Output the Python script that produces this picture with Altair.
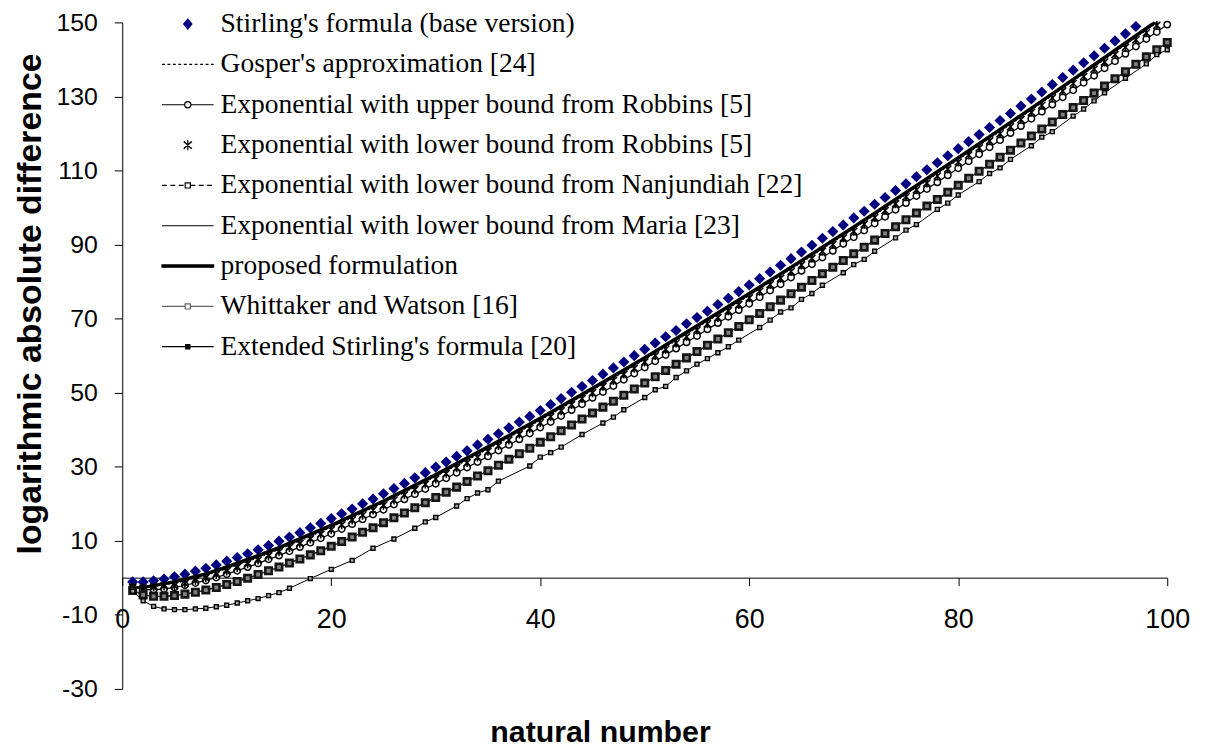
import json
import altair as alt
import pandas as pd

# ---------------- data ----------------
n_all = list(range(1, 101))

stirling = [
    -1.1, -1.1, -0.8, -0.3, 0.3, 1.0, 1.8, 2.6, 3.5, 4.5,
    5.5, 6.5, 7.6, 8.7, 9.9, 11.0, 12.2, 13.5, 14.7, 16.0,
    17.3, 18.6, 20.0, 21.3, 22.7, 24.1, 25.5, 27.0, 28.4, 29.9,
    31.3, 32.8, 34.3, 35.9, 37.4, 38.9, 40.5, 42.1, 43.6, 45.2,
    46.8, 48.4, 50.1, 51.7, 53.3, 55.0, 56.7, 58.3, 60.0, 61.7,
    63.4, 65.1, 66.8, 68.6, 70.3, 72.0, 73.8, 75.5, 77.3, 79.1,
    80.8, 82.6, 84.4, 86.2, 88.0, 89.8, 91.7, 93.5, 95.3, 97.2,
    99.0, 100.9, 102.7, 104.6, 106.4, 108.3, 110.2, 112.1, 114.0, 115.9,
    117.8, 119.7, 121.6, 123.5, 125.4, 127.4, 129.3, 131.2, 133.2, 135.1,
    137.1, 139.1, 141.0, 143.0, 145.0, 146.9, 148.9, 150.9, 152.9, 154.9,
]

gosper = [
    -2.4, -2.6, -2.3, -2.0, -1.5, -0.9, -0.1, 0.6, 1.5, 2.4,
    3.4, 4.4, 5.4, 6.5, 7.6, 8.8, 9.9, 11.1, 12.4, 13.6,
    14.9, 16.2, 17.5, 18.9, 20.2, 21.6, 23.0, 24.4, 25.9, 27.3,
    28.8, 30.3, 31.7, 33.2, 34.8, 36.3, 37.8, 39.4, 41.0, 42.5,
    44.1, 45.7, 47.4, 49.0, 50.6, 52.3, 53.9, 55.6, 57.2, 58.9,
    60.6, 62.3, 64.0, 65.7, 67.5, 69.2, 70.9, 72.7, 74.4, 76.2,
    78.0, 79.8, 81.5, 83.3, 85.1, 86.9, 88.8, 90.6, 92.4, 94.2,
    96.1, 97.9, 99.8, 101.6, 103.5, 105.4, 107.2, 109.1, 111.0, 112.9,
    114.8, 116.7, 118.6, 120.5, 122.4, 124.4, 126.3, 128.2, 130.2, 132.1,
    134.1, 136.0, 138.0, 139.9, 141.9, 143.9, 145.9, 147.8, 149.8, 151.8,
]

robbins_upper = [
    -2.6, -3.2, -3.2, -3.0, -2.6, -2.0, -1.4, -0.7, 0.1, 1.0,
    1.9, 2.9, 3.9, 5.0, 6.0, 7.2, 8.3, 9.5, 10.7, 11.9,
    13.2, 14.5, 15.8, 17.1, 18.4, 19.8, 21.2, 22.6, 24.0, 25.4,
    26.9, 28.4, 29.8, 31.3, 32.8, 34.4, 35.9, 37.4, 39.0, 40.6,
    42.1, 43.7, 45.3, 46.9, 48.6, 50.2, 51.8, 53.5, 55.2, 56.8,
    58.5, 60.2, 61.9, 63.6, 65.3, 67.1, 68.8, 70.5, 72.3, 74.0,
    75.8, 77.6, 79.3, 81.1, 82.9, 84.7, 86.5, 88.3, 90.2, 92.0,
    93.8, 95.7, 97.5, 99.4, 101.2, 103.1, 105.0, 106.8, 108.7, 110.6,
    112.5, 114.4, 116.3, 118.2, 120.1, 122.0, 124.0, 125.9, 127.8, 129.8,
    131.7, 133.7, 135.6, 137.6, 139.5, 141.5, 143.5, 145.5, 147.4, 149.4,
]

robbins_lower = [
    -2.6, -2.8, -2.5, -2.2, -2.1, -1.5, -0.7, 0.0, 0.9, 1.8,
    2.8, 3.8, 4.8, 5.9, 7.0, 8.2, 9.3, 10.5, 11.8, 13.0,
    14.3, 15.6, 16.9, 18.3, 19.6, 21.0, 22.4, 23.8, 25.3, 26.7,
    28.2, 29.7, 31.1, 32.6, 34.2, 35.7, 37.2, 38.8, 40.4, 41.9,
    43.5, 45.1, 46.8, 48.4, 50.0, 51.7, 53.3, 55.0, 56.6, 58.3,
    60.0, 61.7, 63.4, 65.1, 66.9, 68.6, 70.3, 72.1, 73.8, 75.6,
    77.4, 79.2, 80.9, 82.7, 84.5, 86.3, 88.2, 90.0, 91.8, 93.6,
    95.5, 97.3, 99.2, 101.0, 102.9, 104.8, 106.6, 108.5, 110.4, 112.3,
    114.2, 116.1, 118.0, 119.9, 121.8, 123.8, 125.7, 127.6, 129.6, 131.5,
    133.5, 135.4, 137.4, 139.3, 141.3, 143.3, 145.3, 147.2, 149.2, 151.2,
]

nanjundiah = [
    -3.4, -4.6, -5.0, -5.0, -4.8, -4.4, -3.9, -3.3, -2.6, -1.8,
    -1.0, -0.1, 0.9, 1.9, 2.9, 4.0, 5.1, 6.2, 7.3, 8.5,
    9.8, 11.0, 12.3, 13.5, 14.9, 16.2, 17.5, 18.9, 20.3, 21.7,
    23.1, 24.5, 26.0, 27.5, 28.9, 30.4, 32.0, 33.5, 35.0, 36.6,
    38.1, 39.7, 41.3, 42.9, 44.5, 46.1, 47.7, 49.3, 51.0, 52.6,
    54.3, 56.0, 57.7, 59.4, 61.1, 62.8, 64.5, 66.2, 67.9, 69.7,
    71.4, 73.2, 75.0, 76.7, 78.5, 80.3, 82.1, 83.9, 85.7, 87.5,
    89.3, 91.2, 93.0, 94.8, 96.7, 98.5, 100.4, 102.2, 104.1, 106.0,
    107.9, 109.8, 111.7, 113.6, 115.5, 117.4, 119.3, 121.2, 123.1, 125.1,
    127.0, 128.9, 130.9, 132.8, 134.8, 136.7, 138.7, 140.7, 142.6, 144.6,
]

# Whittaker and Watson coincides with the Nanjundiah curve in the picture
whittaker = [
    -3.4, -4.6, -5.0, -5.0, -4.8, -4.4, -3.9, -3.3, -2.6, -1.8,
    -1.0, -0.1, 0.9, 1.9, 2.9, 4.0, 5.1, 6.2, 7.3, 8.5,
    9.8, 11.0, 12.3, 13.5, 14.9, 16.2, 17.5, 18.9, 20.3, 21.7,
    23.1, 24.5, 26.0, 27.5, 28.9, 30.4, 32.0, 33.5, 35.0, 36.6,
    38.1, 39.7, 41.3, 42.9, 44.5, 46.1, 47.7, 49.3, 51.0, 52.6,
    54.3, 56.0, 57.7, 59.4, 61.1, 62.8, 64.5, 66.2, 67.9, 69.7,
    71.4, 73.2, 75.0, 76.7, 78.5, 80.3, 82.1, 83.9, 85.7, 87.5,
    89.3, 91.2, 93.0, 94.8, 96.7, 98.5, 100.4, 102.2, 104.1, 106.0,
    107.9, 109.8, 111.7, 113.6, 115.5, 117.4, 119.3, 121.2, 123.1, 125.1,
    127.0, 128.9, 130.9, 132.8, 134.8, 136.7, 138.7, 140.7, 142.6, 144.6,
]

mp_n = [1, 2, 3, 4, 5, 6, 7, 8, 10, 12, 15, 20, 25, 30, 35, 40, 45, 50,
        55, 60, 65, 70, 75, 80, 85, 90, 95, 100]
maria = [-2.5, -2.6, -2.2, -1.8, -1.3, -0.7, 0.1, 0.8, 2.6, 4.6, 7.8, 13.8,
         20.4, 27.5, 35.0, 42.7, 50.8, 59.1, 67.7, 76.4, 85.3, 94.4, 103.7,
         113.1, 122.6, 132.3, 142.1, 152.0]
proposed = [-2.6, -2.6, -2.1, -1.6, -1.0, -0.4, 0.4, 1.1, 3.0, 5.0, 8.2, 14.2,
            20.8, 27.9, 35.4, 43.1, 51.2, 59.5, 68.1, 76.8, 85.7, 94.8, 104.1,
            113.5, 123.0, 132.7, 142.5, 152.4]

extended_n = [1, 2, 3, 4, 5, 6, 7, 8, 9, 10, 11, 12, 13, 14, 15, 16, 18, 20,
              22, 24, 26, 28, 29, 30, 32, 33, 34, 35, 36, 39, 40, 41, 42, 44,
              46, 47, 48, 50, 51, 52, 53, 54, 55, 56, 57, 58, 59, 61, 62, 63,
              64, 65, 66, 67, 69, 70, 71, 72, 74, 75, 76, 78, 79, 80, 82, 83,
              84, 85, 87, 88, 89, 91, 92, 93, 94, 96, 98, 99, 100]
extended = [-3.6, -6.2, -7.7, -8.4, -8.6, -8.6, -8.4, -8.2, -7.8, -7.4, -6.8,
            -6.2, -5.6, -4.8, -4.0, -2.8, -0.2, 2.3, 4.7, 8.0, 10.5, 13.4,
            15.1, 16.3, 19.4, 21.4, 22.9, 23.8, 26.1, 30.2, 32.6, 33.8, 35.3,
            38.7, 41.8, 43.4, 45.4, 48.7, 50.8, 51.7, 54.1, 55.9, 57.7, 59.2,
            60.8, 62.4, 64.2, 67.6, 69.6, 71.8, 72.9, 75.2, 76.8, 79.0, 82.4,
            84.6, 86.0, 88.2, 91.8, 93.9, 95.4, 99.5, 101.2, 103.4, 107.0,
            109.2, 110.7, 113.0, 116.7, 119.0, 120.5, 124.7, 126.6, 128.8,
            131.0, 134.9, 138.8, 141.3, 142.6]

names = [
    "Stirling's formula (base version)",
    "Gosper's approximation [24]",
    "Exponential with upper bound from Robbins [5]",
    "Exponential with lower bound from Robbins [5]",
    "Exponential with lower bound from Nanjundiah [22]",
    "Exponential with lower bound from Maria [23]",
    "proposed formulation",
    "Whittaker and Watson [16]",
    "Extended Stirling's formula [20]",
]

series = [
    (n_all, stirling), (n_all, gosper), (n_all, robbins_upper),
    (n_all, robbins_lower), (n_all, nanjundiah), (mp_n, maria),
    (mp_n, proposed), (n_all, whittaker), (extended_n, extended),
]

rows = []
for name, (xs, ys) in zip(names, series):
    for xv, yv in zip(xs, ys):
        rows.append({"n": xv, "value": yv, "series": name})
df = pd.DataFrame(rows)

# ---------------- legend symbols (custom paths, unit box -1..1 = 52 px) ----------------
def dashes(x0, x1, dash, gap):
    out, x = [], x0
    while x < x1 - 1e-9:
        e = min(x + dash, x1)
        out.append(f"M{x:.3f},0H{e:.3f}")
        x = e + gap
    return "".join(out)

circ = "M0.12,0A0.12,0.12,0,1,1,-0.12,0A0.12,0.12,0,1,1,0.12,0Z"
sq = "M-0.1,-0.1H0.1V0.1H-0.1Z"
paths = [
    "M0,-0.19L0.16,0L0,0.19L-0.16,0Z",
    dashes(-1, 1, 0.115, 0.096),
    "M-1,0H-0.12M0.12,0H1" + circ,
    "M-0.16,-0.14L0.16,0.14M-0.16,0.14L0.16,-0.14M0,-0.2L0,0.2"
    "M-0.14,-0.14L0.14,0.14M-0.14,0.14L0.14,-0.14",
    dashes(-1, -0.1, 0.19, 0.135) + dashes(0.1, 1, 0.19, 0.135) + sq,
    "M-1,0H1",
    "M-1,-0.045H1V0.045H-1Z",
    "M-1,0H-0.1M0.1,0H1" + sq,
    "M-1,0H1M-0.08,-0.08H0.08V0.08H-0.08Z",
]
sym_stroke = ["#000080", "black", "black", "black", "black", "black", "black", "#666666", "black"]
sym_fill = ["#000080", "white", "white", "white", "white", "white", "black", "white", "black"]

def arr(vals):
    return "[" + ",".join(json.dumps(v) for v in vals) + "][datum.index]"

legend = alt.Legend(
    title=None, orient="none", legendX=39, legendY=-18.3, direction="vertical",
    padding=0, labelFont="Liberation Serif", labelFontSize=27.7, labelColor="black",
    labelLimit=1000, labelOffset=6, symbolSize=2704, symbolStrokeWidth=1.2,
    symbolOpacity=1, clipHeight=40, rowPadding=0.6, labelBaseline="middle",
)

# ---------------- axes ----------------
x_axis = alt.Axis(
    values=[0, 20, 40, 60, 80, 100], offset=-112, grid=False,
    domainColor="black", tickColor="black", tickSize=8, labelPadding=21,
    labelFont="Liberation Sans", labelFontSize=27, labelColor="black",
    labelFlush=False, labelOverlap=False, labelExpr="'' + datum.value",
    title="natural number", titleFont="Liberation Sans", titleFontSize=30.5,
    titleFontWeight="bold", titleColor="black", titleX=481, titleY=165,
    titleBaseline="alphabetic", titleAlign="center",
)
y_axis = alt.Axis(
    values=[-30, -10, 10, 30, 50, 70, 90, 110, 130, 150], grid=False,
    domainColor="black", tickColor="black", tickSize=8, labelPadding=17,
    labelFont="Liberation Sans", labelFontSize=25, labelColor="black",
    labelFlush=False, labelOverlap=False, labelExpr="'' + datum.value",
    title="logarithmic absolute difference", titleFont="Liberation Sans",
    titleFontSize=34, titleFontWeight="bold", titleColor="black",
    titleX=-82, titleY=283, titleAngle=270, titleBaseline="alphabetic",
    titleAlign="center",
)

base = alt.Chart(df).encode(
    x=alt.X("n:Q", scale=alt.Scale(domain=[0, 100], nice=False, zero=False), axis=x_axis),
    y=alt.Y("value:Q", scale=alt.Scale(domain=[-30, 150], nice=False), axis=y_axis),
)

def sel(i):
    return base.transform_filter(alt.datum.series == names[i])

def pts(i):
    return sel(i).transform_filter(alt.datum.value <= 150)

ASTER = "M-0.8,-0.8L0.8,0.8M-0.8,0.8L0.8,-0.8M0,-1L0,1"

layers = [
    pts(0).mark_point(shape="diamond", filled=True, size=125, color="#000080", opacity=1),
    sel(1).mark_line(color="black", strokeWidth=1, strokeDash=[2, 2], clip=True),
    sel(2).mark_line(color="black", strokeWidth=1.2, clip=True),
    pts(2).mark_point(shape="circle", size=42, filled=True, fill="white", stroke="black",
                      strokeWidth=1.5, opacity=1),
    pts(3).mark_point(shape=ASTER, size=80, filled=False, stroke="black", strokeWidth=1.6, opacity=1),
    sel(4).mark_line(color="black", strokeWidth=1, strokeDash=[4, 3], clip=True),
    pts(4).mark_point(shape="square", size=30, filled=True, fill="white", stroke="black",
                      strokeWidth=1, opacity=1),
    sel(5).mark_line(color="black", strokeWidth=1.2, clip=True),
    sel(6).mark_line(color="black", strokeWidth=3.2, clip=True),
    sel(7).mark_line(color="#222222", strokeWidth=1.3, clip=True),
    pts(7).mark_point(shape="square", size=42, filled=True, fill="#808080", stroke="#151515",
                      strokeWidth=2.6, opacity=1),
    sel(8).mark_line(color="black", strokeWidth=1, clip=True),
    pts(8).mark_point(shape="square", size=16, filled=True, fill="#aaaaaa", stroke="black",
                      strokeWidth=1.4, opacity=1),
    # invisible layer that only carries the legend
    base.mark_point(
        size=0, filled=True, opacity=1,
        fill=alt.ExprRef(arr(sym_fill)), stroke=alt.ExprRef(arr(sym_stroke)),
    ).encode(
        shape=alt.Shape("series:N", scale=alt.Scale(domain=names, range=paths), legend=legend)
    ),
]

chart = alt.layer(*layers).properties(
    width=1052, height=671,
    autosize=alt.AutoSizeParams(type="none"),
    padding={"left": 115, "top": 12, "right": 34, "bottom": 60},
    background="white",
).configure_view(stroke=None)

chart.save("out.html", embed_options={"renderer": "svg", "actions": False})
